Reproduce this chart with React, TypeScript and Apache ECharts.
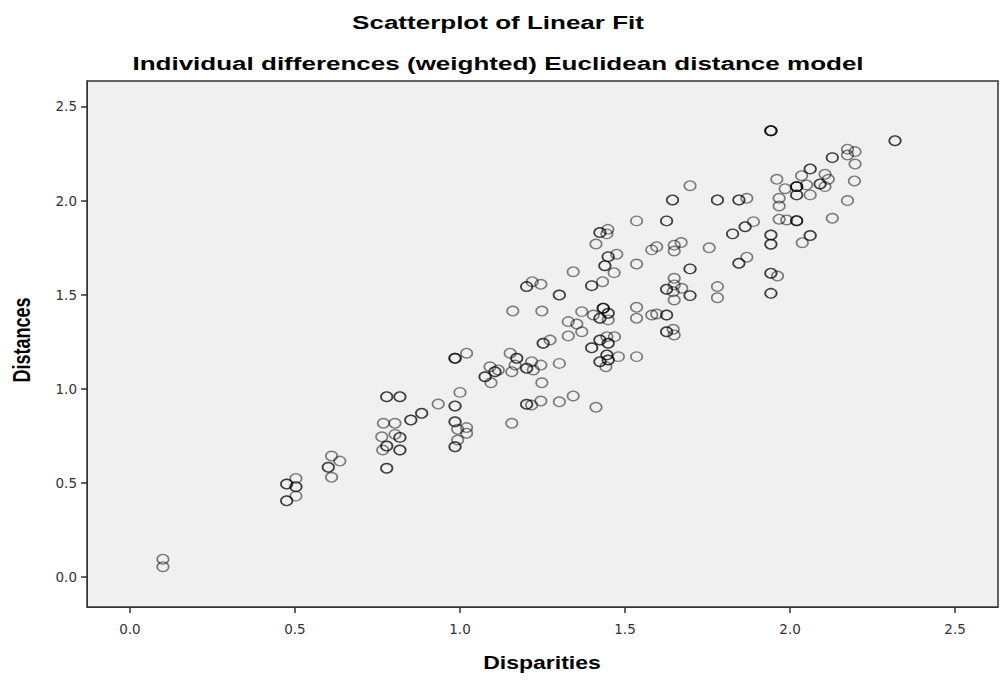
import React, { useEffect, useRef } from "react";
import * as echarts from "echarts";

// [disparity, distance] pairs, grouped by region of the cloud
const lowPoints: [number, number][] = [
  [0.1, 0.095], [0.1, 0.055],
  [0.475, 0.494], [0.475, 0.494], [0.503, 0.524], [0.503, 0.48], [0.503, 0.48],
  [0.475, 0.405], [0.475, 0.405], [0.503, 0.43], [0.611, 0.643], [0.636, 0.616],
  [0.601, 0.583], [0.601, 0.583], [0.611, 0.53],
];

const nearOnePoints: [number, number][] = [
  [0.778, 0.958], [0.778, 0.958], [0.818, 0.958], [0.818, 0.958], [0.768, 0.817],
  [0.803, 0.817], [0.763, 0.745], [0.803, 0.758], [0.818, 0.742], [0.818, 0.742],
  [0.778, 0.696], [0.778, 0.696], [0.766, 0.675], [0.818, 0.675], [0.818, 0.675],
  [0.778, 0.578], [0.778, 0.578], [0.851, 0.834], [0.851, 0.834], [0.884, 0.87],
  [0.884, 0.87], [0.934, 0.919], [0.985, 0.909], [0.985, 0.909], [1.0, 0.981],
  [0.985, 0.825], [0.985, 0.825], [0.993, 0.785], [1.02, 0.794], [1.02, 0.764],
  [0.993, 0.728], [0.985, 0.692], [0.985, 0.692], [0.985, 1.162], [0.985, 1.162],
  [0.985, 1.162], [1.02, 1.189],
];

const midLowPoints: [number, number][] = [
  [1.157, 0.817], [1.202, 0.918], [1.202, 0.918], [1.217, 0.914], [1.245, 0.935],
  [1.301, 0.931], [1.343, 0.962], [1.412, 0.902], [1.248, 1.032], [1.076, 1.064],
  [1.076, 1.064], [1.091, 1.117], [1.094, 1.032], [1.106, 1.091], [1.106, 1.091],
  [1.116, 1.1], [1.152, 1.189], [1.157, 1.091], [1.172, 1.162], [1.172, 1.162],
  [1.167, 1.126], [1.202, 1.109], [1.202, 1.109], [1.217, 1.144], [1.222, 1.1],
  [1.245, 1.126], [1.301, 1.135], [1.252, 1.242], [1.252, 1.242], [1.273, 1.259],
  [1.328, 1.281], [1.328, 1.357], [1.354, 1.344], [1.369, 1.303], [1.369, 1.41],
  [1.16, 1.413], [1.248, 1.413],
];

const midHighPoints: [number, number][] = [
  [1.202, 1.543], [1.202, 1.543], [1.219, 1.569], [1.245, 1.555], [1.301, 1.498],
  [1.301, 1.498], [1.343, 1.622], [1.399, 1.548], [1.399, 1.548], [1.432, 1.569],
  [1.412, 1.769], [1.424, 1.83], [1.424, 1.83], [1.448, 1.847], [1.445, 1.823],
  [1.449, 1.702], [1.449, 1.702], [1.475, 1.715], [1.439, 1.654], [1.439, 1.654],
  [1.467, 1.617],
];

const columnPoints: [number, number][] = [
  [1.404, 1.392], [1.434, 1.428], [1.434, 1.428], [1.434, 1.428], [1.449, 1.401],
  [1.449, 1.401], [1.424, 1.375], [1.424, 1.375], [1.449, 1.366], [1.399, 1.218],
  [1.399, 1.218], [1.424, 1.259], [1.424, 1.259], [1.445, 1.277], [1.468, 1.277],
  [1.449, 1.242], [1.449, 1.242], [1.424, 1.144], [1.424, 1.144], [1.445, 1.18],
  [1.445, 1.18], [1.449, 1.153], [1.449, 1.153], [1.48, 1.171], [1.442, 1.117],
];

const upperPoints: [number, number][] = [
  [1.697, 2.079], [1.644, 2.003], [1.644, 2.003], [1.78, 2.003], [1.78, 2.003],
  [1.845, 2.003], [1.845, 2.003], [1.869, 2.012], [1.535, 1.892], [1.626, 1.892],
  [1.626, 1.892], [1.826, 1.823], [1.826, 1.823], [1.864, 1.861], [1.864, 1.861],
  [1.889, 1.888], [1.581, 1.738], [1.596, 1.755], [1.649, 1.763], [1.67, 1.777],
  [1.649, 1.732], [1.755, 1.749], [1.845, 1.667], [1.845, 1.667], [1.869, 1.699],
  [1.535, 1.663], [1.697, 1.637], [1.697, 1.637], [1.649, 1.587], [1.626, 1.529],
  [1.626, 1.529], [1.649, 1.552], [1.672, 1.534], [1.646, 1.516], [1.649, 1.472],
  [1.697, 1.495], [1.697, 1.495], [1.78, 1.543], [1.78, 1.484], [1.535, 1.433],
  [1.535, 1.375], [1.581, 1.392], [1.596, 1.397], [1.626, 1.392], [1.626, 1.392],
  [1.626, 1.303], [1.626, 1.303], [1.646, 1.316], [1.649, 1.286], [1.535, 1.171],
];

const topPoints: [number, number][] = [
  [1.942, 2.371], [1.942, 2.371], [1.942, 2.371], [1.942, 2.371], [2.318, 2.318],
  [2.318, 2.318], [2.174, 2.273], [2.197, 2.26], [2.174, 2.242], [2.197, 2.194],
  [2.128, 2.228], [2.128, 2.228], [2.061, 2.168], [2.061, 2.168], [2.035, 2.132],
  [2.106, 2.14], [2.116, 2.113], [2.091, 2.088], [2.091, 2.088], [2.106, 2.074],
  [2.195, 2.104], [1.96, 2.113], [1.985, 2.063], [2.02, 2.074], [2.02, 2.074],
  [2.02, 2.074], [2.02, 2.074], [2.02, 2.03], [2.02, 2.03], [2.061, 2.03],
  [2.05, 2.083], [1.967, 2.012], [1.967, 1.971], [2.174, 2.0], [1.967, 1.901],
  [1.99, 1.897], [2.02, 1.893], [2.02, 1.893], [2.02, 1.893], [2.128, 1.906],
  [1.942, 1.817], [1.942, 1.817], [1.942, 1.768], [1.942, 1.768], [2.061, 1.814],
  [2.061, 1.814], [2.037, 1.776], [1.942, 1.614], [1.942, 1.614], [1.962, 1.599],
  [1.942, 1.507], [1.942, 1.507],
];

const tickValues = [0, 0.5, 1.0, 1.5, 2.0, 2.5];
const titleText = "Scatterplot of Linear Fit";
const subtitleText = "Individual differences (weighted) Euclidean distance model";
const xName = "Disparities";
const yName = "Distances";

const FONT = "Arial, 'Liberation Sans', Helvetica, sans-serif";
const TICK_FONT = "'DejaVu Sans', Verdana, sans-serif";
const STRETCH = 1.28;
const TITLE_STRETCH = 1.37;

export default function App() {
  const ref = useRef<HTMLDivElement>(null);
  useEffect(() => {
    if (!ref.current) return;
    const chart = echarts.init(ref.current, null, { renderer: "svg" });
    const data = [
      ...lowPoints,
      ...nearOnePoints,
      ...midLowPoints,
      ...midHighPoints,
      ...columnPoints,
      ...upperPoints,
      ...topPoints,
    ];
    const boldText = (text: string, size: number) => ({
      text,
      fontFamily: FONT,
      fontSize: size,
      fontWeight: "bold",
      fill: "#000",
      textAlign: "center",
      textVerticalAlign: "middle",
    });
    const axisCommon = {
      type: "value" as const,
      axisLine: { show: true, onZero: false, lineStyle: { color: "#333", width: 1 } },
      axisTick: { show: true, length: 6, customValues: tickValues, lineStyle: { color: "#333", width: 1.5 } },
      axisLabel: {
        customValues: tickValues,
        formatter: (v: number) => v.toFixed(1),
        fontFamily: TICK_FONT,
        fontSize: 13.5,
        color: "#333",
      },
      splitLine: { show: false },
    };
    chart.setOption({
      animation: false,
      backgroundColor: "#ffffff",
      graphic: [
        { type: "text", x: 498, y: 22, scaleX: TITLE_STRETCH, style: boldText(titleText, 19) },
        { type: "text", x: 498, y: 63, scaleX: TITLE_STRETCH, style: boldText(subtitleText, 19) },
        { type: "text", x: 542, y: 662, scaleX: STRETCH, style: boldText(xName, 18) },
        {
          type: "text",
          x: 22,
          y: 340,
          rotation: Math.PI / 2,
          scaleY: STRETCH,
          style: boldText(yName, 18),
        },
      ],
      grid: {
        left: 87,
        right: 3,
        top: 81,
        bottom: 79,
        show: true,
        backgroundColor: "#f0f0f0",
        borderColor: "#333",
        borderWidth: 1.5,
      },
      xAxis: {
        ...axisCommon,
        min: -0.13,
        max: 2.63,
        axisLabel: { ...axisCommon.axisLabel, margin: 15 },
      },
      yAxis: {
        ...axisCommon,
        min: -0.159,
        max: 2.635,
        axisLabel: { ...axisCommon.axisLabel, margin: 10 },
      },
      series: [
        {
          type: "scatter",
          data,
          symbol: "circle",
          symbolSize: [11.5, 9.5],
          silent: true,
          itemStyle: {
            color: "rgba(0,0,0,0)",
            borderColor: "rgba(0,0,0,0.62)",
            borderWidth: 1.5,
          },
        },
      ],
    });
    return () => chart.dispose();
  }, []);
  return (
    <div
      ref={ref}
      style={{ position: "fixed", left: 0, top: 0, width: 1001, height: 686 }}
    />
  );
}
